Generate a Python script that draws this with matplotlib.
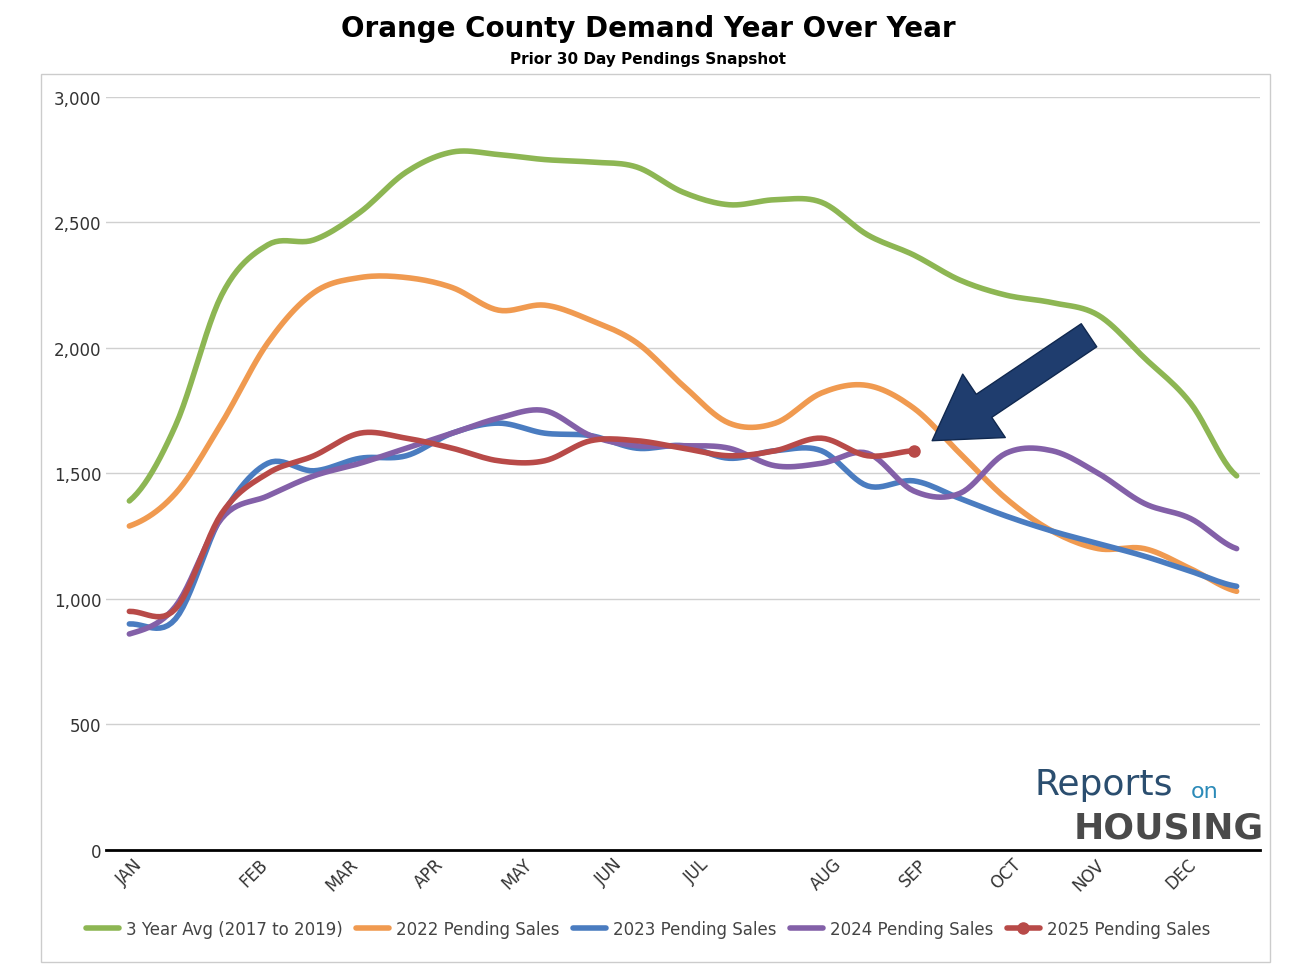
import numpy as np
import matplotlib.pyplot as plt

avg_3yr = [1390, 1690, 2210, 2410, 2430, 2540, 2700, 2780, 2770, 2750, 2740, 2720, 2620,
           2570, 2590, 2580, 2450, 2370, 2270, 2210, 2180, 2130, 1960, 1780, 1490]
sales_2022 = [1290, 1420, 1700, 2020, 2220, 2280, 2280, 2240, 2150, 2170, 2110, 2020, 1850,
              1700, 1700, 1820, 1850, 1760, 1580, 1400, 1270, 1200, 1200, 1120, 1030]
sales_2023 = [900, 920, 1330, 1540, 1510, 1560, 1570, 1660, 1700, 1660, 1650, 1600, 1610,
              1560, 1590, 1590, 1450, 1470, 1400, 1330, 1270, 1220, 1170, 1110, 1050]
sales_2024 = [860, 970, 1320, 1410, 1490, 1540, 1600, 1660, 1720, 1750, 1650, 1610, 1610,
              1600, 1530, 1540, 1580, 1430, 1420, 1580, 1590, 1500, 1380, 1320, 1200]
sales_2025 = [950, 960, 1340, 1500, 1570, 1660, 1640, 1600, 1550, 1550, 1630, 1630, 1600,
              1570, 1590, 1640, 1570, 1590]

months = ['JAN', 'FEB', 'MAR', 'APR', 'MAY', 'JUN', 'JUL', 'AUG', 'SEP', 'OCT', 'NOV', 'DEC']
month_pos = [0, 2.7, 4.6, 6.5, 8.4, 10.4, 12.3, 15.1, 17.0, 19.0, 20.8, 22.8]


def smooth(y, n=12):
    # catmull-rom spline through the points, like excel's smoothed line
    y = np.asarray(y, float)
    p = np.concatenate([[y[0]], y, [y[-1]]])
    xs, ys = [], []
    t = np.linspace(0, 1, n, endpoint=False)
    for i in range(len(y) - 1):
        p0, p1, p2, p3 = p[i], p[i + 1], p[i + 2], p[i + 3]
        seg = 0.5 * (2 * p1 + (-p0 + p2) * t + (2 * p0 - 5 * p1 + 4 * p2 - p3) * t ** 2
                     + (-p0 + 3 * p1 - 3 * p2 + p3) * t ** 3)
        xs.extend(i + t)
        ys.extend(seg)
    xs.append(len(y) - 1)
    ys.append(y[-1])
    return np.array(xs), np.array(ys)


fig = plt.figure(figsize=(12.96, 9.78), dpi=100)
ax = fig.add_axes([0.082, 0.13, 0.89, 0.77])

series = [
    (avg_3yr, '#8db653', '3 Year Avg (2017 to 2019)'),
    (sales_2022, '#f09a50', '2022 Pending Sales'),
    (sales_2023, '#4a7cc0', '2023 Pending Sales'),
    (sales_2024, '#8360a8', '2024 Pending Sales'),
    (sales_2025, '#b84a48', '2025 Pending Sales'),
]
for vals, col, lab in series:
    xs, ys = smooth(vals)
    if lab.startswith('2025'):
        ax.plot(xs, ys, color=col, lw=4, label=lab, solid_capstyle='round',
                marker='o', markevery=[len(xs) - 1], ms=8)
    else:
        ax.plot(xs, ys, color=col, lw=4, label=lab, solid_capstyle='round')

ax.set_ylim(0, 3000)
ax.set_xlim(-0.5, 24.5)
ax.set_yticks(range(0, 3001, 500))
ax.set_yticklabels([f'{v:,}' for v in range(0, 3001, 500)], fontsize=12, color='#333333')
ax.set_xticks(month_pos)
ax.set_xticklabels(months, rotation=45, fontsize=12, color='#333333')
ax.tick_params(length=0)
ax.grid(axis='y', color='#d0d0d0', lw=1)
for s in ['top', 'right', 'left']:
    ax.spines[s].set_visible(False)
ax.spines['bottom'].set_linewidth(2)
ax.set_axisbelow(True)

ax.annotate('', xy=(17.4, 1630), xytext=(20.8, 2050),
            arrowprops=dict(facecolor='#1f3d6e', edgecolor='#10284f', width=20,
                            headwidth=55, headlength=45))

fig.text(0.905, 0.18, 'Reports', fontsize=26, color='#2b4e6f', ha='right', va='bottom')
fig.text(0.94, 0.18, 'on', fontsize=16, color='#2b8ab8', ha='right', va='bottom')
fig.text(0.975, 0.135, 'HOUSING', fontsize=26, color='#4a4a4a', ha='right', va='bottom',
         fontweight='bold')

fig.text(0.5, 0.962, 'Orange County Demand Year Over Year', ha='center', fontsize=20,
         fontweight='bold')
fig.text(0.5, 0.935, 'Prior 30 Day Pendings Snapshot', ha='center', fontsize=11,
         fontweight='bold')

fig.legend(loc='lower center', bbox_to_anchor=(0.5, 0.025), ncol=5, frameon=False,
           fontsize=12, handlelength=2.0, columnspacing=0.8, handletextpad=0.4,
           labelcolor='#444444')

fig.patches.append(plt.Rectangle((0.032, 0.015), 0.948, 0.908, transform=fig.transFigure,
                                 fill=False, edgecolor='#cccccc', lw=1))

fig.savefig('out.png', dpi=100)
